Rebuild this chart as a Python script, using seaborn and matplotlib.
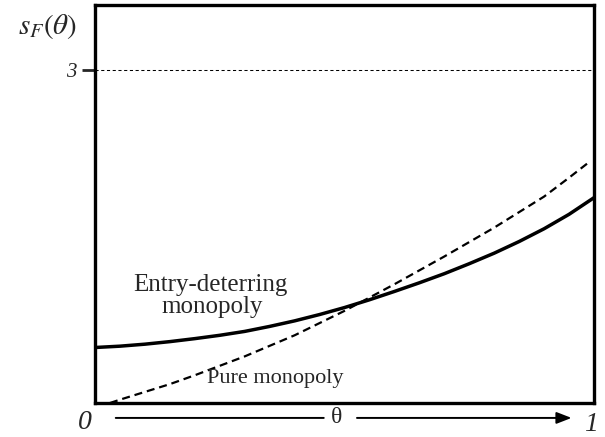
import matplotlib
matplotlib.use("Agg")
import matplotlib.pyplot as plt
import seaborn as sns
import numpy as np
import pandas as pd

# ---- data ----
theta_grid = [0.0, 0.05, 0.1, 0.15, 0.2, 0.25, 0.3, 0.35, 0.4, 0.45, 0.5,
              0.55, 0.6, 0.65, 0.7, 0.75, 0.8, 0.85, 0.9, 0.95, 1.0]
entry_deterring = [0.50, 0.512, 0.53, 0.553, 0.58, 0.61, 0.645, 0.69, 0.74, 0.797, 0.86,
                   0.93, 1.005, 1.083, 1.165, 1.255, 1.35, 1.455, 1.57, 1.70, 1.85]
theta_pure = [0.03, 0.05, 0.1, 0.15, 0.2, 0.25, 0.3, 0.35, 0.4, 0.45, 0.5,
              0.55, 0.6, 0.65, 0.7, 0.75, 0.8, 0.85, 0.9, 0.95, 0.99]
pure_monopoly = [0.0, 0.03, 0.10, 0.17, 0.25, 0.335, 0.42, 0.515, 0.61, 0.72, 0.83,
                 0.95, 1.07, 1.195, 1.32, 1.45, 1.58, 1.72, 1.86, 2.03, 2.17]
ref_level = 3
ytick_labels = ["3"]
x_end_labels = ["0", "1"]

sns.set_style("white")
plt.rcParams["font.family"] = ["Liberation Serif", "DejaVu Serif"]
plt.rcParams["mathtext.fontset"] = "stix"

fig = plt.figure(figsize=(6.05, 4.37), dpi=100)
ax = fig.add_axes([95 / 605, 34 / 437, 499 / 605, 398 / 437])

df_e = pd.DataFrame({"theta": theta_grid, "s": entry_deterring})
df_p = pd.DataFrame({"theta": theta_pure, "s": pure_monopoly})

sns.lineplot(data=df_e, x="theta", y="s", ax=ax, color="black", linewidth=2.5)
sns.lineplot(data=df_p, x="theta", y="s", ax=ax, color="black", linewidth=1.6,
             dashes=False)
ax.lines[-1].set_dashes((3.6, 2.2))

ax.axhline(ref_level, color="black", linewidth=0.75, dashes=(3, 2.5))

ax.set_xlim(0, 1)
ax.set_ylim(0, 3.586)
ax.set_xticks([])
ax.set_yticks([ref_level])
ax.set_yticklabels(ytick_labels, fontsize=15, style="italic")
ax.tick_params(axis="y", direction="out", length=9.5, width=2, pad=3.5, left=True)
ax.set_xlabel("")
ax.set_ylabel("")
for sp in ax.spines.values():
    sp.set_linewidth(2.4)
    sp.set_color("black")

# y-axis label at top-left
ax.text(-0.096, 0.947, r"$s_F(\theta)$", transform=ax.transAxes, fontsize=21,
        ha="center", va="center")

# curve labels
ax.text(0.2305, 1.009, "Entry-deterring", fontsize=18, ha="center", va="baseline")
ax.text(0.235, 0.811, "monopoly", fontsize=18, ha="center", va="baseline")
ax.text(0.361, 0.18, "Pure monopoly", fontsize=16, ha="center", va="baseline")

# bottom axis annotation
ax.text(-0.02, -0.048, x_end_labels[0], transform=ax.transAxes, fontsize=20,
        style="italic", ha="center", va="center")
ax.text(0.993, -0.055, x_end_labels[1], transform=ax.transAxes, fontsize=20,
        style="italic", ha="center", va="center")
ax.text(0.485, -0.036, r"θ", transform=ax.transAxes, fontsize=17,
        ha="center", va="center")
yl = -0.0375
ax.annotate("", xy=(0.464, yl), xytext=(0.036, yl), xycoords="axes fraction",
            arrowprops=dict(arrowstyle="-", color="black", lw=1.4),
            annotation_clip=False)
ax.annotate("", xy=(0.955, yl), xytext=(0.525, yl), xycoords="axes fraction",
            arrowprops=dict(arrowstyle="-|>,head_length=0.9,head_width=0.35",
                            color="black", lw=1.4, shrinkA=0, shrinkB=0),
            annotation_clip=False)

fig.savefig("out.png", dpi=100)
